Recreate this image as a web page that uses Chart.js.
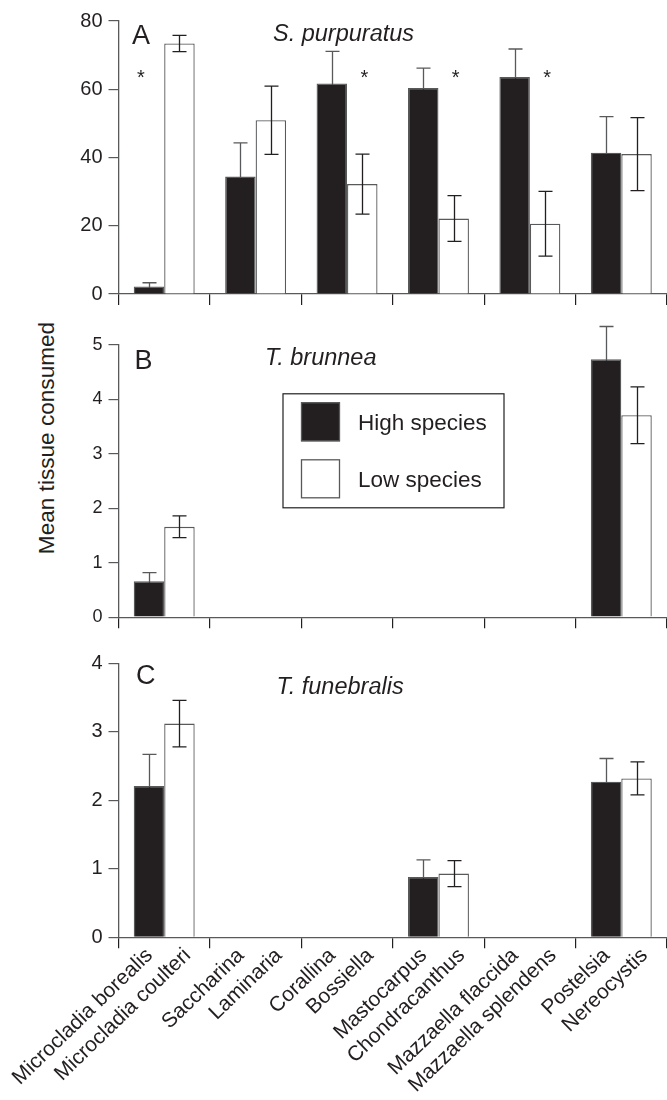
<!DOCTYPE html>
<html>
<head>
<meta charset="utf-8">
<script src="https://cdn.jsdelivr.net/npm/chart.js@4.4.1/dist/chart.umd.min.js"></script>
<style>
html,body{margin:0;padding:0;background:#fff;width:667px;height:1100px;overflow:hidden;position:relative;}
canvas{position:absolute;left:0;}
#ytitle{position:absolute;left:-152.8px;top:427px;width:400px;height:22px;line-height:22px;text-align:center;
  font-family:'Liberation Sans',Arial,Helvetica,sans-serif;font-size:22.6px;color:#231f20;white-space:nowrap;
  transform:rotate(-90deg);transform-origin:50% 50%;}
</style>
</head>
<body>
<div id="ytitle">Mean tissue consumed</div>
<canvas id="cA" width="667" height="312" style="top:0px"></canvas>
<canvas id="cB" width="667" height="312" style="top:322px"></canvas>
<canvas id="cC" width="667" height="460" style="top:640px"></canvas>
<script>
// ---------- data ----------
const species = ['Microcladia borealis','Microcladia coulteri','Saccharina','Laminaria','Corallina','Bossiella',
  'Mastocarpus','Chondracanthus','Mazzaella flaccida','Mazzaella splendens','Postelsia','Nereocystis'];
const groups = ['Microcladia','Saccharina/Laminaria','Corallina/Bossiella','Mastocarpus/Chondracanthus','Mazzaella','Postelsia/Nereocystis'];
const seriesNames = ['High species','Low species'];

// Panel A: S. purpuratus
const purpHigh    = [2.2, 34.4, 61.7, 60.4, 63.6, 41.4];
const purpHighErr = [1.1, 9.9, 9.4, 5.8, 8.2, 10.6];
const purpLow     = [73.4, 50.9, 32.2, 22.1, 20.6, 41.0];
const purpLowErr  = [2.4, 10.0, 8.8, 6.7, 9.5, 10.7];
const purpStars   = [true, false, true, true, true, false];
const purpTicks   = [0, 20, 40, 60, 80];

// Panel B: T. brunnea
const brunHigh    = [0.66, null, null, null, null, 4.74];
const brunHighErr = [0.16, null, null, null, null, 0.60];
const brunLow     = [1.66, null, null, null, null, 3.71];
const brunLowErr  = [0.20, null, null, null, null, 0.52];
const brunTicks   = [0, 1, 2, 3, 4, 5];

// Panel C: T. funebralis
const funHigh     = [2.21, null, null, 0.88, null, 2.27];
const funHighErr  = [0.46, null, null, 0.25, null, 0.34];
const funLow      = [3.12, null, null, 0.93, null, 2.32];
const funLowErr   = [0.34, null, null, 0.19, null, 0.24];
const funTicks    = [0, 1, 2, 3, 4];

// ---------- style ----------
const FONT = "'Liberation Sans', Arial, Helvetica, sans-serif";
const INK = '#231f20';
const GREY = '#58595b';
// where, inside each group (0..1), the two species names are anchored
const LABEL_OFFSETS = [0.34, 0.755];

function drawErrors(chart, layer) {
  const ctx = chart.ctx, ys = chart.scales.y;
  chart.data.datasets.forEach((ds, i) => {
    if (ds.errorLayer !== layer) return;
    const meta = chart.getDatasetMeta(i);
    meta.data.forEach((el, j) => {
      const v = ds.data[j], e = ds.errors[j];
      if (v == null || e == null) return;
      const x = Math.round(el.x) + 0.5;
      const yt = ys.getPixelForValue(v + e), yb = ys.getPixelForValue(Math.max(0, v - e));
      ctx.save();
      ctx.strokeStyle = ds.errorColor; ctx.lineWidth = 1.3;
      ctx.beginPath();
      ctx.moveTo(x, yt); ctx.lineTo(x, yb);
      ctx.moveTo(x - 7, yt); ctx.lineTo(x + 7, yt);
      ctx.moveTo(x - 7, yb); ctx.lineTo(x + 7, yb);
      ctx.stroke(); ctx.restore();
    });
  });
}

const errorBars = {
  id: 'errorBars',
  beforeDatasetsDraw(chart) { drawErrors(chart, 'under'); },
  afterDatasetsDraw(chart) { drawErrors(chart, 'over'); }
};

const decor = {
  id: 'decor',
  afterDraw(chart, args, o) {
    const ctx = chart.ctx;
    ctx.save();
    ctx.fillStyle = INK;
    ctx.textBaseline = 'alphabetic';
    ctx.textAlign = 'left';
    if (o.letter) { ctx.font = `27px ${FONT}`; ctx.fillText(o.letter.text, o.letter.x, o.letter.y); }
    if (o.title) { ctx.font = `italic 23.5px ${FONT}`; ctx.fillText(o.title.text, o.title.x, o.title.y); }
    if (o.stars) {
      ctx.font = `20px ${FONT}`; ctx.textAlign = 'center';
      const ys = chart.scales.y;
      o.stars.forEach((s, i) => {
        if (!s) return;
        const d0 = chart.data.datasets[0].data[i], d1 = chart.data.datasets[1].data[i];
        const di = d0 <= d1 ? 0 : 1;
        const el = chart.getDatasetMeta(di).data[i];
        ctx.fillText('*', el.x + (di === 0 ? -8 : 2), ys.getPixelForValue(o.starLevel) + 11.5);
      });
    }
    if (o.legend) {
      const L = o.legend;
      ctx.strokeStyle = INK; ctx.lineWidth = 1.2;
      ctx.strokeRect(L.x + 0.5, L.y + 0.5, L.w, L.h);
      ctx.font = `22.5px ${FONT}`; ctx.textAlign = 'left';
      chart.data.datasets.forEach((ds, i) => {
        const sy = L.y + L.top + i * L.gap;
        ctx.fillStyle = ds.backgroundColor;
        ctx.fillRect(L.sx, sy, L.sw, L.sw);
        ctx.strokeStyle = GREY; ctx.lineWidth = 1.3;
        ctx.strokeRect(L.sx + 0.5, sy + 0.5, L.sw - 1, L.sw - 1);
        ctx.fillStyle = INK;
        ctx.fillText(ds.label, L.tx, sy + L.sw / 2 + 8);
      });
    }
    ctx.restore();
  }
};

function yScale(ticks, fontSize) {
  return {
    min: ticks[0], max: ticks[ticks.length - 1],
    ticks: { stepSize: ticks[1] - ticks[0], color: INK, font: { family: FONT, size: fontSize }, padding: 6 },
    grid: { drawOnChartArea: false, drawTicks: true, tickLength: 10, color: GREY, lineWidth: 1.2 },
    border: { color: GREY, width: 1.3 },
    afterFit(s) { s.width = 118.5; }
  };
}

function xScale(h) {
  return {
    type: 'category', offset: true, position: 'bottom',
    grid: { offset: true, drawOnChartArea: false, drawTicks: true, tickLength: 11, color: INK, lineWidth: 1.2 },
    border: { color: GREY, width: 1.3 },
    ticks: { display: false },
    afterFit(s) { s.height = h; s.paddingLeft = 0; s.paddingRight = 0; }
  };
}

function datasets(hi, hiErr, lo, loErr) {
  return [
    { label: seriesNames[0], data: hi, errors: hiErr, backgroundColor: INK, borderColor: GREY, borderWidth: 1.3,
      errorColor: GREY, errorLayer: 'under', xAxisID: 'x', yAxisID: 'y', categoryPercentage: 2/3, barPercentage: 1 },
    { label: seriesNames[1], data: lo, errors: loErr, backgroundColor: '#ffffff', borderColor: GREY, borderWidth: 1.3,
      errorColor: INK, errorLayer: 'over', xAxisID: 'x', yAxisID: 'y', categoryPercentage: 2/3, barPercentage: 1 }
  ];
}

const common = {
  responsive: false, animation: false, devicePixelRatio: 1,
  plugins: { legend: { display: false }, tooltip: { enabled: false } }
};

new Chart(document.getElementById('cA'), {
  type: 'bar',
  data: { labels: groups, datasets: datasets(purpHigh, purpHighErr, purpLow, purpLowErr) },
  options: Object.assign({}, common, {
    layout: { padding: { top: 21, bottom: 3, left: 0, right: 0 } },
    scales: { x: xScale(12), y: yScale(purpTicks, 20) },
    plugins: Object.assign({}, common.plugins, {
      decor: { letter: { text: 'A', x: 132, y: 44.3 }, title: { text: 'S. purpuratus', x: 273, y: 40.5 },
               stars: purpStars, starLevel: 65 }
    })
  }),
  plugins: [errorBars, decor]
});

new Chart(document.getElementById('cB'), {
  type: 'bar',
  data: { labels: groups, datasets: datasets(brunHigh, brunHighErr, brunLow, brunLowErr) },
  options: Object.assign({}, common, {
    layout: { padding: { top: 23, bottom: 1, left: 0, right: 0 } },
    scales: { x: xScale(12), y: yScale(brunTicks, 18) },
    plugins: Object.assign({}, common.plugins, {
      decor: { letter: { text: 'B', x: 134.5, y: 47 }, title: { text: 'T. brunnea', x: 265, y: 43 },
               legend: { x: 282.5, y: 71.3, w: 221, h: 114, top: 9, gap: 57, sx: 301, sw: 39, tx: 358 } }
    })
  }),
  plugins: [errorBars, decor]
});

new Chart(document.getElementById('cC'), {
  type: 'bar',
  data: { labels: groups, datasets: datasets(funHigh, funHighErr, funLow, funLowErr) },
  options: Object.assign({}, common, {
    layout: { padding: { top: 23.3, bottom: 0, left: 0, right: 0 } },
    scales: {
      x: xScale(0),
      xl: {
        type: 'linear', position: 'bottom', min: 0, max: groups.length, offset: false,
        afterBuildTicks(s) {
          s.ticks = [];
          groups.forEach((g, i) => LABEL_OFFSETS.forEach(f => s.ticks.push({ value: i + f })));
        },
        grid: { display: false, drawTicks: false, offset: false }, border: { display: false },
        ticks: { autoSkip: false, maxRotation: 44, minRotation: 44, padding: 6, color: INK,
                 font: { family: FONT, size: 21 }, callback: (v, i) => species[i] },
        afterFit(s) { s.height = 162.7; s.paddingLeft = 0; s.paddingRight = 0; }
      },
      y: yScale(funTicks, 20)
    },
    plugins: Object.assign({}, common.plugins, {
      decor: { letter: { text: 'C', x: 136, y: 44.3 }, title: { text: 'T. funebralis', x: 276.5, y: 54 } }
    })
  }),
  plugins: [errorBars, decor]
});
</script>
</body>
</html>
